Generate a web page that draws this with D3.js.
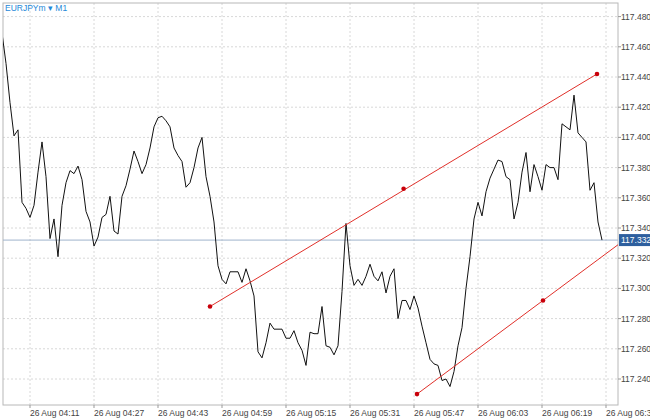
<!DOCTYPE html>
<html><head><meta charset="utf-8">
<script src="https://cdn.jsdelivr.net/npm/d3@7"></script>
<style>body{margin:0;background:#fff}text{font-family:"Liberation Sans",Arial,sans-serif}</style>
</head><body><div id="chart"></div>
<script>
var closes = [117.469,117.449,117.423,117.401,117.405,117.357,117.353,117.347,117.355,117.377,117.397,117.374,117.333,117.346,117.321,117.355,117.370,117.378,117.376,117.381,117.372,117.351,117.344,117.328,117.334,117.347,117.349,117.361,117.338,117.336,117.361,117.368,117.379,117.391,117.384,117.376,117.382,117.393,117.407,117.413,117.414,117.411,117.407,117.393,117.388,117.384,117.367,117.370,117.380,117.393,117.400,117.374,117.361,117.344,117.315,117.306,117.303,117.311,117.311,117.311,117.304,117.313,117.305,117.295,117.258,117.254,117.264,117.277,117.273,117.273,117.273,117.267,117.267,117.272,117.264,117.259,117.249,117.271,117.270,117.270,117.288,117.262,117.261,117.256,117.262,117.298,117.343,117.315,117.302,117.306,117.302,117.308,117.316,117.308,117.305,117.311,117.297,117.308,117.313,117.280,117.292,117.292,117.286,117.295,117.287,117.275,117.264,117.253,117.250,117.249,117.239,117.240,117.235,117.245,117.262,117.274,117.300,117.321,117.346,117.357,117.348,117.364,117.373,117.379,117.385,117.384,117.374,117.372,117.346,117.357,117.377,117.390,117.364,117.382,117.374,117.365,117.382,117.380,117.380,117.372,117.409,117.407,117.405,117.428,117.403,117.400,117.397,117.365,117.370,117.344,117.332];
var priceTicks = [117.240,117.260,117.280,117.300,117.320,117.340,117.360,117.380,117.400,117.420,117.440,117.460,117.480];
var timeTicks = ["04:11","04:27","04:43","04:59","05:15","05:31","05:47","06:03","06:19","06:35"];
var lastPrice = 117.332;
// trend lines: [minute offset from 04:04, price]
var upperTrend = [[52,117.288],[100.4,117.366],[148.75,117.442]];
var lowerTrend = [[103.75,117.230],[135.25,117.292]];

var W = 650, H = 420, pLeft = 3, pRight = 618, pTop = 3, pBottom = 405;
var t0 = new Date(2024,7,26,4,4);
function tm(m){ return new Date(t0.getTime() + m*60000); }
function parseT(s){ var p=s.split(":"); return new Date(2024,7,26,+p[0],+p[1]); }

var x = d3.scaleTime().domain([tm(0), tm(150)]).range([2, 602]);
var y = d3.scaleLinear().domain([117.24, 117.44]).range([379, 77]);

var svg = d3.select("#chart").append("svg").attr("width",W).attr("height",H);

svg.append("defs").append("clipPath").attr("id","plotclip")
	.append("rect").attr("x",pLeft).attr("y",pTop).attr("width",pRight-pLeft).attr("height",pBottom-pTop);

// grid
svg.selectAll(".hg").data(priceTicks).enter().append("line")
	.attr("x1",pLeft).attr("x2",pRight).attr("y1",d=>y(d)).attr("y2",d=>y(d))
	.attr("stroke","#d8d8d8").attr("stroke-dasharray","2,2");
svg.selectAll(".vg").data(timeTicks).enter().append("line")
	.attr("x1",d=>x(parseT(d))).attr("x2",d=>x(parseT(d))).attr("y1",pTop).attr("y2",pBottom)
	.attr("stroke","#d8d8d8").attr("stroke-dasharray","2,2");

// frame
svg.append("rect").attr("x",pLeft).attr("y",pTop).attr("width",pRight-pLeft).attr("height",pBottom-pTop)
	.attr("fill","none").attr("stroke","#b8b8b8");

var g = svg.append("g").attr("clip-path","url(#plotclip)");

// last price line
g.append("line").attr("x1",pLeft).attr("x2",pRight).attr("y1",y(lastPrice)).attr("y2",y(lastPrice))
	.attr("stroke","#9fb4cc").attr("stroke-width",1);

// price line
g.append("path").datum(closes)
	.attr("d", d3.line().x((d,i)=>x(tm(i))).y(d=>y(d)))
	.attr("fill","none").attr("stroke","#111").attr("stroke-width",1);

// trend lines
var red = "#e0302a";
g.append("line").attr("x1",x(tm(upperTrend[0][0]))).attr("y1",y(upperTrend[0][1]))
	.attr("x2",x(tm(upperTrend[2][0]))).attr("y2",y(upperTrend[2][1]))
	.attr("stroke",red).attr("stroke-width",1);
var a = lowerTrend[0], b = lowerTrend[1];
var slope = (b[1]-a[1])/(b[0]-a[0]);
g.append("line").attr("x1",x(tm(a[0]))).attr("y1",y(a[1]))
	.attr("x2",x(tm(160))).attr("y2",y(a[1]+slope*(160-a[0])))
	.attr("stroke",red).attr("stroke-width",1);
g.selectAll(".dot").data(upperTrend.concat(lowerTrend)).enter().append("circle")
	.attr("cx",d=>x(tm(d[0]))).attr("cy",d=>y(d[1])).attr("r",2.3).attr("fill","#c8000a");

// y axis labels
svg.selectAll(".yl").data(priceTicks).enter().append("text")
	.attr("x",pRight+3).attr("y",d=>y(d)+3).attr("font-size",8.5).attr("fill","#444")
	.text(d=>d.toFixed(3));
svg.selectAll(".yt").data(priceTicks).enter().append("line")
	.attr("x1",pRight).attr("x2",pRight+3).attr("y1",d=>y(d)).attr("y2",d=>y(d)).attr("stroke","#999");

// last price box
svg.append("rect").attr("x",pRight+1).attr("y",y(lastPrice)-6).attr("width",W-pRight-1).attr("height",12)
	.attr("fill","#2e5f9e");
svg.append("text").attr("x",pRight+3).attr("y",y(lastPrice)+3).attr("font-size",8.5).attr("fill","#fff")
	.text(lastPrice.toFixed(3));

// x axis labels
svg.selectAll(".xl").data(timeTicks).enter().append("text")
	.attr("x",d=>x(parseT(d))).attr("y",416).attr("font-size",8.5).attr("fill","#444")
	.text(d=>"26 Aug "+d);
svg.selectAll(".xt").data(timeTicks).enter().append("line")
	.attr("x1",d=>x(parseT(d))).attr("x2",d=>x(parseT(d))).attr("y1",pBottom).attr("y2",pBottom+3).attr("stroke","#999");

// title
svg.append("text").attr("x",5).attr("y",11).attr("font-size",8.5).attr("fill","#1e88d8")
	.text("EURJPYm \u25BE M1");
</script></body></html>
